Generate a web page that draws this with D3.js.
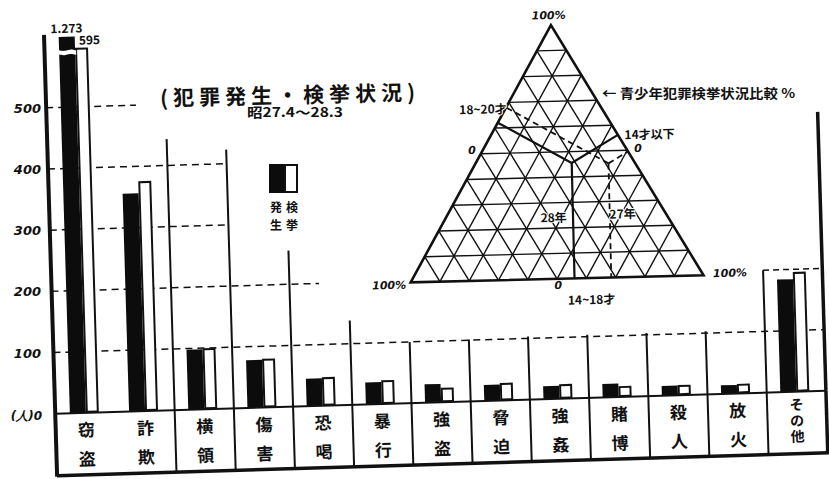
<!DOCTYPE html>
<html>
<head>
<meta charset="utf-8">
<script src="https://cdn.jsdelivr.net/npm/d3@7"></script>
<style>
body { margin: 0; background: #fff; }
svg { display: block; }
text { font-family: "Noto Sans CJK JP", sans-serif; fill: #111; }
.num { font-family: "DejaVu Sans", sans-serif; font-style: italic; font-weight: bold; }
</style>
</head>
<body>
<div id="chart-area"></div>
<script>
// data
var categories = ["窃盗", "詐欺", "横領", "傷害", "恐喝", "暴行", "強盗", "脅迫", "強姦", "賭博", "殺人", "放火", "その他"];
var occurred = [1273, 356, 98, 78, 45, 36, 30, 26, 21, 22, 16, 14, 184];
var arrested = [595, 374, 98, 78, 45, 37, 22, 27, 22, 16, 15, 14, 194];
var yTicks = [100, 200, 300, 400, 500];
// height (in 人) of the separator line standing right of each category
var dividerValues = [0, 443, 423, 255, 138, 100, 101, 103, 103, 103, 103, 200, 456];

// ternary diagram: 青少年 shares (%)
var ageGroups = ["14~18才", "14才以下", "18~20才"];
var share28 = [45.5, 21.3, 33.2];
var share27 = [45, 9, 46];

var width = 829, height = 479;
var svg = d3.select("#chart-area").append("svg")
    .attr("width", width)
    .attr("height", height);
svg.append("rect").attr("width", width).attr("height", height).attr("fill", "#fff");

// the scan is slightly tilted
var tilt = -1.7, pivot = [415, 400];
function rot(p) {
    var a = tilt * Math.PI / 180, dx = p[0] - pivot[0], dy = p[1] - pivot[1];
    return [pivot[0] + dx * Math.cos(a) - dy * Math.sin(a), pivot[1] + dx * Math.sin(a) + dy * Math.cos(a)];
}
var g = svg.append("g")
    .attr("transform", "rotate(" + tilt + "," + pivot[0] + "," + pivot[1] + ")");

var baseY = 403, cellBottom = 465, left = 55, right = 826;
var x = d3.scaleBand().domain(categories).range([56, right]);
var y = d3.scaleLinear().domain([0, 500]).range([baseY, baseY - 306]);
var step = x.step();
function mid(i) { return x(categories[i]) + step / 2; }
function edge(i) { return x(categories[i]) + step; }

//Dashed gridlines
var gridEnd = { 100: right, 200: mid(4), 300: edge(2), 400: edge(2), 500: mid(1) };
g.selectAll(".grid").data(yTicks).enter().append("line")
    .attr("class", "grid")
    .attr("x1", left).attr("x2", function(d) { return gridEnd[d]; })
    .attr("y1", function(d) { return y(d); }).attr("y2", function(d) { return y(d); })
    .attr("stroke", "#111").attr("stroke-width", 1.5).attr("stroke-dasharray", "7,5");
// box top over その他
g.append("line")
    .attr("x1", edge(11)).attr("x2", right)
    .attr("y1", y(200)).attr("y2", y(200))
    .attr("stroke", "#111").attr("stroke-width", 1.5).attr("stroke-dasharray", "6,4");

//Separators above the baseline
dividerValues.forEach(function(v, i) {
    if (v <= 0) return;
    g.append("line")
        .attr("x1", edge(i)).attr("x2", edge(i))
        .attr("y1", baseY).attr("y2", y(v))
        .attr("stroke", "#111").attr("stroke-width", i == 12 ? 3.5 : 2);
});

//Label cells
categories.forEach(function(c, i) {
    if (i > 0 && i < 12) {
        g.append("line")
            .attr("x1", edge(i)).attr("x2", edge(i))
            .attr("y1", baseY).attr("y2", cellBottom)
            .attr("stroke", "#111").attr("stroke-width", 2);
    }
    var chars = Array.from(c);
    var n = chars.length;
    chars.forEach(function(ch, k) {
        g.append("text")
            .attr("x", mid(i))
            .attr("y", baseY + (n == 2 ? 16 + k * 29 : 12 + k * 16))
            .attr("text-anchor", "middle")
            .attr("dominant-baseline", "central")
            .attr("font-size", n == 2 ? "17px" : "14px")
            .attr("font-weight", "bold")
            .text(ch);
    });
});
g.append("line").attr("x1", right).attr("x2", right).attr("y1", baseY).attr("y2", cellBottom)
    .attr("stroke", "#111").attr("stroke-width", 3.5);

//Bars
var cap = 615;
var darkW = 16, lightW = 13;
g.selectAll(".occ").data(occurred).enter().append("rect")
    .attr("class", "occ")
    .attr("x", function(d, i) { return mid(i) - darkW; })
    .attr("y", function(d) { return y(Math.min(d, cap)); })
    .attr("width", darkW)
    .attr("height", function(d) { return baseY - y(Math.min(d, cap)); })
    .attr("fill", "#0c0c0c");
g.selectAll(".arr").data(arrested).enter().append("rect")
    .attr("class", "arr")
    .attr("x", function(d, i) { return mid(i) + 1; })
    .attr("y", function(d) { return y(d); })
    .attr("width", lightW - 2)
    .attr("height", function(d) { return baseY - y(d) - 1; })
    .attr("fill", "#fff").attr("stroke", "#111").attr("stroke-width", 2);

// break mark on the over-tall bar + value labels
var thousands = d3.formatLocale({ decimal: ",", thousands: ".", grouping: [3], currency: ["", ""] }).format(",");
occurred.forEach(function(v, i) {
    if (v <= cap) return;
    var x0 = mid(i) - darkW - 1, x1 = mid(i) + 1;
    var wave = d3.line().curve(d3.curveBasis);
    var top = [[x0, y(594)], [x0 + 6, y(591)], [x0 + 12, y(595)], [x1, y(592)]];
    var bot = [[x1, y(585)], [x1 - 6, y(588)], [x1 - 12, y(584)], [x0, y(587)]];
    g.append("path").attr("d", wave(top) + "L" + wave(bot).slice(1) + "Z").attr("fill", "#fff");
    g.append("text")
        .attr("x", mid(i) - darkW / 2).attr("y", y(cap) - 4)
        .attr("text-anchor", "middle").attr("font-size", "12px").attr("font-weight", "bold")
        .attr("font-family", "DejaVu Sans")
        .text(thousands(v));
    g.append("text")
        .attr("x", mid(i) + 4).attr("y", y(arrested[i]) - 4)
        .attr("font-size", "12px").attr("font-weight", "bold")
        .attr("font-family", "DejaVu Sans")
        .text(arrested[i]);
});

//Axis frame
g.append("line").attr("x1", left).attr("x2", right).attr("y1", baseY).attr("y2", baseY)
    .attr("stroke", "#111").attr("stroke-width", 2);
g.append("line").attr("x1", left).attr("x2", right + 2).attr("y1", cellBottom).attr("y2", cellBottom)
    .attr("stroke", "#111").attr("stroke-width", 3.5);
g.append("line").attr("x1", left).attr("x2", left).attr("y1", 24).attr("y2", cellBottom + 1)
    .attr("stroke", "#111").attr("stroke-width", 4);

// tick labels stay upright on the page
svg.selectAll(".tickLabel").data(yTicks).enter().append("text")
    .attr("class", "num")
    .attr("x", 41)
    .attr("y", function(d) { return rot([left, y(d)])[1] + 5; })
    .attr("text-anchor", "end")
    .attr("font-size", "13px")
    .text(function(d) { return d; });
svg.append("text")
    .attr("class", "num")
    .attr("x", 42).attr("y", rot([left, baseY])[1] + 6)
    .attr("text-anchor", "end").attr("font-size", "12px")
    .text("(人)0");

//Title + legend
svg.append("text")
    .attr("x", 160).attr("y", 103)
    .attr("transform", "rotate(-1.3,287,96)")
    .attr("font-size", "21px").attr("font-weight", "bold")
    .attr("textLength", 255).attr("lengthAdjust", "spacing")
    .text("(犯罪発生・検挙状況)");
svg.append("text")
    .attr("x", 247).attr("y", 117)
    .attr("font-size", "13px").attr("font-weight", "bold")
    .attr("textLength", 96).attr("lengthAdjust", "spacingAndGlyphs")
    .text("昭27.4～28.3");

svg.append("rect").attr("x", 269).attr("y", 164).attr("width", 16).attr("height", 29).attr("fill", "#0c0c0c");
svg.append("rect").attr("x", 285).attr("y", 165).attr("width", 12).attr("height", 27)
    .attr("fill", "#fff").attr("stroke", "#111").attr("stroke-width", 2);
// legend: 発生 (left column), 検挙 (right column)
[["発", "生"], ["検", "挙"]].forEach(function(pair, j) {
    pair.forEach(function(ch, k) {
        svg.append("text")
            .attr("x", 276 + j * 16).attr("y", 206 + k * 18)
            .attr("text-anchor", "middle")
            .attr("font-size", "12px").attr("font-weight", "bold")
            .attr("dominant-baseline", "central")
            .text(ch);
    });
});

//Triangle
var tri = svg.append("g").attr("transform", "translate(554,152) rotate(-1.4)");
var side = 293, h = side * Math.sqrt(3) / 2;
var T = [0, -h / 2], L = [-side / 2, h / 2], R = [side / 2, h / 2];
var pct = d3.scaleLinear().domain([0, 100]).range([0, 1]);
function bary(a, b, c) { return [a * T[0] + b * L[0] + c * R[0], a * T[1] + b * L[1] + c * R[1]]; }
var line = d3.line();

d3.range(1, 10).forEach(function(i) {
    var t = i / 10;
    [[bary(t, 1 - t, 0), bary(t, 0, 1 - t)],
     [bary(1 - t, t, 0), bary(0, t, 1 - t)],
     [bary(1 - t, 0, t), bary(0, 1 - t, t)]].forEach(function(seg) {
        tri.append("path").attr("d", line(seg))
            .attr("stroke", "#111").attr("stroke-width", 1.4).attr("fill", "none");
    });
});
tri.append("path").attr("d", line([T, L, R]) + "Z")
    .attr("fill", "none").attr("stroke", "#111").attr("stroke-width", 2.6);

// perpendiculars from the point to each side
function spokes(shares) {
    var a = pct(shares[0]), b = pct(shares[1]), c = pct(shares[2]);
    var p = bary(a, b, c);
    return [
        [p, bary(a + c / 2, b + c / 2, 0)],
        [p, bary(a + b / 2, 0, c + b / 2)],
        [p, bary(0, b + a / 2, c + a / 2)]
    ];
}
spokes(share28).forEach(function(seg) {
    tri.append("path").attr("d", line(seg))
        .attr("stroke", "#111").attr("stroke-width", 2.2).attr("fill", "none");
});
spokes(share27).forEach(function(seg) {
    tri.append("path").attr("d", line(seg))
        .attr("stroke", "#111").attr("stroke-width", 1.8).attr("fill", "none")
        .attr("stroke-dasharray", "6,4");
});

var triLabels = [
    { t: "100%", x: -2, y: -133, it: true },
    { t: "18~20才", x: -70, y: -40 },
    { t: "0", x: -82, y: 0, it: true },
    { t: "14才以下", x: 96, y: -11 },
    { t: "0", x: 84, y: 2, it: true },
    { t: "28年", x: -2, y: 70 },
    { t: "27年", x: 67, y: 68 },
    { t: "100%", x: -168, y: 133, it: true },
    { t: "100%", x: 173, y: 129, it: true },
    { t: "0", x: 1, y: 137, it: true },
    { t: "14~18才", x: 34, y: 153 }
];
triLabels.forEach(function(d) {
    tri.append("text")
        .attr("x", d.x).attr("y", d.y)
        .attr("text-anchor", "middle")
        .attr("font-size", d.it ? "11px" : "12px")
        .attr("font-weight", "bold")
        .attr("class", d.it ? "num" : null)
        .attr("fill", "#111")
        .style("paint-order", "stroke").style("stroke", "#fff").style("stroke-width", d.it ? 0 : 2)
        .text(d.t);
});

svg.append("text")
    .attr("x", 602).attr("y", 98)
    .attr("font-size", "13px").attr("font-weight", "bold")
    .attr("textLength", 193).attr("lengthAdjust", "spacingAndGlyphs")
    .text("← 青少年犯罪検挙状況比較 %");
</script>
</body>
</html>
